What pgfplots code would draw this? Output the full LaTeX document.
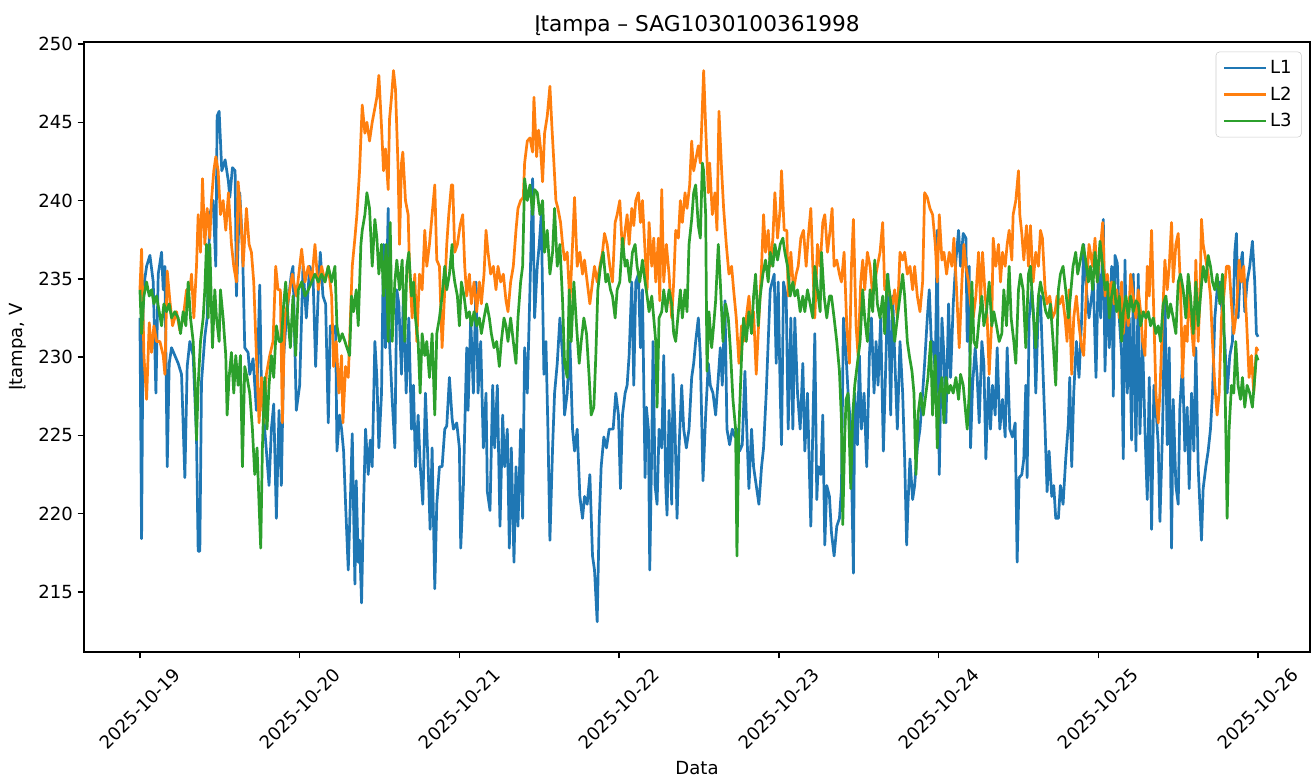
\documentclass[border=0pt]{standalone}
\usepackage{fontspec}
\setmainfont{DejaVu Sans}
\usepackage{pgfplots}
\pgfplotsset{compat=1.18}
\definecolor{tabblue}{HTML}{1F77B4}
\definecolor{taborange}{HTML}{FF7F0E}
\definecolor{tabgreen}{HTML}{2CA02C}
\begin{document}
\begin{tikzpicture}
\begin{axis}[
  scale only axis,
  width=882.7pt, height=439.2pt,
  xmin=-8.4, xmax=175.8,
  ymin=211.17, ymax=250.13,
  xtick={0,24,48,72,96,120,144,168},
  xticklabels={2025-10-19,2025-10-20,2025-10-21,2025-10-22,2025-10-23,2025-10-24,2025-10-25,2025-10-26},
  ytick={215,220,225,230,235,240,245,250},
  xtick pos=bottom, ytick pos=left,
  tick align=outside,
  major tick length=4.55pt,
  every tick/.style={black, line width=1.04pt},
  axis line style={black, line width=1.04pt},
  /pgf/number format/assume math mode=true,
  tick label style={font=\fontsize{13}{15.6}\selectfont},
  xticklabel style={anchor=center, yshift=-36.3pt, rotate=45},
  yticklabel style={anchor=east},
  title={Įtampa – SAG1030100361998},
  title style={font=\fontsize{15.6}{18}\selectfont, at={(axis description cs:0.5,1)}, anchor=center, yshift=6pt},
  xlabel={Data},
  xlabel style={font=\fontsize{13}{15.6}\selectfont, at={(axis description cs:0.5,0)}, anchor=center, yshift=-83.5pt},
  ylabel={Įtampa, V},
  ylabel style={font=\fontsize{13}{15.6}\selectfont, at={(axis description cs:-0.0538,0.5)}, anchor=center},
  legend style={at={(1,1)}, anchor=north east, xshift=-6pt, yshift=-7pt,
    draw=black!20, rounded corners=2.5pt, fill=white, fill opacity=0.8, text opacity=1,
    font=\fontsize{13}{15.6}\selectfont, row sep=4pt, inner xsep=5pt, inner ysep=4pt},
  legend cell align=left,
  legend image code/.code={\draw[#1, line width=1.95pt] (0pt,0pt) -- (30pt,0pt);},
  every axis plot/.append style={line width=1.95pt, line join=round},
]
\addplot[tabblue] table {
0 232.5
0.25 218.4
0.5 234.3
1.0 235.8
1.5 236.5
2.0 234.8
2.4 227.7
2.75 235.3
3.25 236.7
3.5 234.3
3.75 235.8
4.1 223.0
4.4 229.6
4.75 230.6
5.25 230.1
5.75 229.6
6.25 228.9
6.75 222.3
7.1 229.4
7.5 231.0
8.0 230.1
8.5 224.9
8.75 217.6
9.0 217.6
9.25 228.4
9.75 231.3
10.1 232.5
10.5 239.1
11.0 240.0
11.4 235.8
11.6 245.4
11.9 245.7
12.3 241.9
12.8 242.6
13.3 241.2
13.5 240.2
13.9 242.1
14.3 241.9
14.5 233.9
15.0 240.5
15.4 237.2
15.75 230.6
16.25 230.3
16.5 228.9
17.0 229.9
17.5 226.6
18.0 234.6
18.25 228.2
18.75 225.4
19.4 221.8
19.75 225.4
20.1 227.0
20.5 219.7
20.9 226.6
21.25 221.8
21.6 230.1
22.0 232.5
22.75 235.3
23.0 235.8
23.5 226.6
24.0 228.2
24.5 235.8
25.0 232.5
25.5 235.8
26.0 235.3
26.4 229.4
26.8 234.3
27.1 236.7
27.5 233.9
27.9 233.4
28.3 225.8
28.6 232.0
29.0 231.5
29.4 232.0
29.6 224.0
30.0 226.3
30.3 225.4
30.6 224.0
30.9 220.6
31.3 216.4
31.6 220.6
31.9 225.1
32.3 215.5
32.5 222.1
32.8 216.9
33.0 218.3
33.3 214.3
33.6 220.6
33.9 225.4
34.3 222.5
34.6 224.7
34.9 223.0
35.3 231.0
35.6 228.7
35.9 224.2
36.3 227.7
36.6 237.2
36.9 230.6
37.3 239.5
37.5 231.0
37.9 227.3
38.3 224.2
38.6 234.3
38.9 233.4
39.3 228.9
39.6 234.3
40.0 227.7
40.4 232.5
40.8 225.4
41.1 228.2
41.4 223.0
41.8 226.3
42.1 223.2
42.5 220.6
42.9 227.7
43.3 223.0
43.6 219.0
43.9 224.2
44.3 215.2
44.6 220.6
45.0 223.0
45.4 223.0
45.8 225.4
46.1 225.6
46.5 228.7
46.9 226.1
47.1 225.4
47.6 225.8
48.0 224.2
48.2 217.8
48.6 221.8
48.8 225.4
49.1 230.6
49.3 226.6
49.7 232.5
50.1 227.7
50.5 234.8
50.8 227.7
51.2 231.0
51.6 224.2
52.0 227.7
52.2 221.4
52.6 220.2
53.0 228.2
53.3 224.2
53.7 228.2
54.1 219.2
54.5 226.3
54.8 223.0
55.2 225.4
55.5 217.8
55.8 224.2
56.2 216.9
56.5 223.0
56.8 219.2
57.2 225.4
57.5 219.7
57.8 230.6
58.2 227.7
58.6 234.3
59.0 241.4
59.3 232.5
59.7 235.8
60.0 237.2
60.3 239.1
60.7 228.9
61.0 231.0
61.3 225.4
61.6 218.3
62.0 224.2
62.3 227.7
62.7 229.6
63.1 232.5
63.5 230.1
63.8 226.3
64.2 227.7
64.6 231.0
65.0 225.4
65.3 224.0
65.7 225.4
66.1 221.1
66.5 219.7
66.8 221.1
67.2 220.6
67.6 222.5
68.0 217.3
68.3 216.4
68.7 213.1
69.0 219.5
69.3 223.0
69.7 224.9
70.1 224.2
70.5 225.4
71.1 225.4
71.5 227.7
71.9 226.3
72.2 221.6
72.5 226.3
72.9 227.7
73.2 228.2
73.5 230.1
73.9 234.8
74.2 228.2
74.5 234.8
74.9 235.3
75.2 230.6
75.5 234.3
75.9 222.3
76.1 226.8
76.4 225.4
76.6 216.4
76.9 224.2
77.1 231.0
77.4 221.8
77.7 220.6
78.0 225.4
78.4 224.2
78.7 230.1
79.0 221.8
79.2 219.9
79.5 226.6
79.9 220.6
80.1 228.9
80.4 225.4
80.7 219.7
81.0 224.2
81.4 228.2
81.7 225.4
82.1 224.2
82.5 225.4
82.9 228.7
83.2 229.6
83.5 231.0
83.9 232.5
84.2 230.1
84.6 222.1
85.0 226.3
85.4 229.6
85.7 228.2
86.1 227.7
86.5 226.3
86.9 228.7
87.2 230.6
87.5 228.2
87.9 233.6
88.2 225.4
88.6 224.4
89.0 225.4
89.4 224.9
89.7 225.4
90.1 224.0
90.5 224.4
90.9 229.1
91.1 226.3
91.5 221.6
91.9 225.4
92.2 223.0
92.6 221.8
93.0 220.6
93.4 223.0
93.7 224.2
94.1 227.7
94.4 231.0
94.7 234.3
95.3 235.3
95.6 229.6
95.9 234.8
96.2 227.7
96.4 224.4
96.7 234.8
97.1 233.9
97.4 225.4
97.8 232.5
98.1 225.4
98.4 232.5
98.8 227.7
99.2 225.4
99.6 229.6
99.9 224.0
100.3 227.7
100.6 222.5
100.8 219.2
101.1 225.4
101.4 231.5
101.7 220.9
101.9 223.0
102.3 222.5
102.6 226.3
102.9 218.0
103.2 221.8
103.6 221.1
103.9 218.8
104.3 217.3
104.7 219.2
105.1 219.7
105.4 221.6
105.7 232.5
106.1 230.1
106.4 227.7
106.8 225.4
107.2 216.2
107.4 227.7
107.8 224.4
108.1 230.1
108.4 225.4
108.8 227.7
109.2 223.0
109.6 230.1
109.9 232.5
110.3 227.7
110.6 231.0
110.9 228.2
111.3 232.5
111.7 224.0
112.1 230.1
112.4 235.3
112.8 226.3
113.1 233.9
113.4 230.1
113.8 225.4
114.2 231.0
114.6 227.7
114.9 223.5
115.2 218.0
115.4 220.6
115.7 223.5
116.1 220.9
116.4 221.8
116.8 224.2
117.2 225.4
117.6 227.7
117.9 229.6
118.3 232.5
118.6 234.3
118.9 231.0
119.1 231.0
119.5 229.1
119.8 238.1
120.1 222.5
120.5 232.5
120.8 230.1
121.1 225.8
121.5 233.4
121.8 228.7
122.2 233.4
122.6 236.2
123.0 238.1
123.3 235.8
123.7 237.9
124.1 237.6
124.3 231.0
124.6 235.8
124.8 224.2
125.1 228.2
125.5 230.6
125.8 228.7
126.1 225.8
126.5 231.0
126.8 229.6
127.1 223.5
127.5 228.7
127.8 225.4
128.1 228.2
128.5 226.3
128.8 230.6
129.2 225.4
129.6 227.3
130.0 224.9
130.3 230.6
130.7 225.4
131.1 224.9
131.5 225.8
131.8 216.9
132.1 222.3
132.5 222.5
132.8 223.5
133.1 228.2
133.3 222.3
133.6 232.5
134.0 234.3
134.3 232.5
134.6 227.7
135.0 233.4
135.3 233.9
135.6 230.1
136.0 225.4
136.3 221.4
136.6 224.0
137.0 221.1
137.3 221.8
137.6 219.7
138.0 219.7
138.3 221.8
138.7 220.6
139.1 223.5
139.5 225.8
139.7 228.7
140.0 223.0
140.3 227.7
140.7 231.0
141.1 228.7
141.5 232.5
141.8 237.2
142.2 234.3
142.6 232.5
143.25 234.8
143.65 228.7
144.0 235.8
144.35 232.5
144.75 238.8
145.0 229.1
145.35 234.8
145.65 230.6
146.0 235.8
146.25 227.5
146.5 236.5
146.85 236.0
147.15 232.5
147.5 230.1
147.75 223.5
148.0 236.2
148.35 227.7
148.65 232.5
149.0 224.7
149.25 235.3
149.65 224.0
150.0 235.3
150.25 225.1
150.65 231.0
151.0 225.4
151.35 220.9
151.65 228.7
152.0 219.0
152.35 228.2
152.65 226.8
153.0 224.4
153.25 219.5
153.65 225.4
154.0 233.9
154.35 224.4
154.65 230.6
155.0 217.8
155.25 227.3
155.65 221.8
156.0 220.6
156.25 226.8
156.65 229.6
157.0 224.0
157.35 226.8
157.65 221.6
158.0 227.7
158.35 224.0
158.65 230.6
159.0 223.0
159.25 220.6
159.5 218.3
159.75 221.6
160.15 223.0
160.5 224.0
160.85 225.4
161.15 227.7
161.5 232.5
161.85 234.3
162.25 234.8
162.65 232.5
163.0 231.0
163.35 227.7
163.75 230.1
164.15 231.0
164.5 236.7
164.75 237.9
165.0 232.5
165.35 235.8
165.65 236.7
166.0 232.9
166.35 234.8
166.75 235.8
167.15 237.4
167.5 234.8
167.75 231.5
168.0 231.3
};
\addlegendentry{L1}
\addplot[taborange] table {
0 234.3
0.25 236.9
0.6 230.1
1.0 227.3
1.4 232.2
1.75 230.3
2.1 232.0
2.5 231.0
3.0 231.0
3.5 230.1
3.75 228.9
4.1 235.5
4.5 233.6
4.9 232.0
5.5 232.9
6.0 231.7
6.5 232.5
7.0 234.3
7.5 234.3
7.75 235.3
8.1 232.5
8.5 235.8
8.75 239.1
9.1 236.7
9.4 241.4
9.75 237.2
10.1 239.5
10.5 237.6
10.75 240.0
11.1 241.9
11.4 242.8
11.75 241.9
12.1 239.1
12.5 240.0
12.9 238.1
13.3 240.5
13.75 237.2
14.1 235.8
14.5 234.8
14.75 241.2
15.1 239.5
15.5 235.8
16.0 239.5
16.4 237.2
16.75 236.7
17.1 234.8
17.5 230.1
17.9 225.8
18.25 228.7
18.6 225.8
19.0 228.9
19.5 230.1
20.0 231.0
20.4 235.8
20.75 234.3
21.1 234.3
21.4 225.8
21.75 232.5
22.25 233.6
22.9 235.3
23.5 233.9
24.3 236.9
24.8 234.8
25.3 235.8
25.8 234.8
26.3 237.2
26.8 234.3
27.3 235.8
27.8 234.8
28.3 235.8
28.8 233.9
29.1 229.4
29.5 231.0
29.9 227.7
30.3 230.1
30.5 225.8
30.9 229.4
31.3 228.7
31.5 231.0
31.9 235.8
32.3 237.6
32.6 239.1
33.0 241.9
33.4 246.1
33.8 244.3
34.1 245.0
34.5 243.8
34.9 245.0
35.3 245.9
35.6 246.6
35.9 248.0
36.3 244.7
36.6 241.9
36.9 243.3
37.3 240.7
37.5 245.2
37.8 246.6
38.1 248.3
38.4 247.1
38.8 241.9
39.0 237.2
39.3 242.4
39.5 243.1
39.9 240.0
40.3 239.1
40.5 235.8
40.9 232.5
41.3 235.3
41.6 231.0
42.0 235.3
42.4 234.3
42.8 238.1
43.1 235.8
43.5 237.2
43.9 239.1
44.3 241.0
44.6 236.2
45.0 235.8
45.4 230.6
45.8 234.3
46.1 237.2
46.4 239.1
46.8 241.0
47.0 241.0
47.3 236.7
47.7 237.2
48.1 238.4
48.5 239.1
48.8 235.8
49.1 233.9
49.5 235.3
49.8 233.4
50.2 234.8
50.6 232.9
51.0 234.8
51.3 233.4
51.7 235.3
52.0 238.1
52.3 236.7
52.7 235.3
53.1 235.8
53.5 234.3
53.8 235.8
54.2 234.8
54.6 235.3
55.0 233.6
55.3 232.9
55.7 234.8
56.1 235.8
56.5 238.1
56.8 239.5
57.2 240.0
57.6 240.2
57.8 242.4
58.2 243.8
58.6 244.0
59.0 243.1
59.2 246.6
59.6 242.8
59.9 244.5
60.2 243.3
60.5 241.2
60.8 244.3
61.2 245.4
61.6 247.3
61.9 244.7
62.2 242.4
62.5 240.0
62.8 239.5
63.2 238.6
63.5 237.2
63.8 236.2
64.2 236.7
64.6 233.4
65.0 237.2
65.3 240.2
65.7 235.8
66.1 236.7
66.5 235.3
66.8 236.2
67.2 234.8
67.6 233.4
68.0 234.8
68.3 235.8
68.7 234.8
69.1 235.8
69.5 236.7
69.8 237.9
70.2 237.2
70.6 235.8
71.0 234.8
71.4 238.6
71.7 239.1
72.1 240.0
72.5 236.7
72.9 238.1
73.2 239.1
73.5 237.2
73.9 239.5
74.2 238.4
74.5 240.0
74.9 240.5
75.2 238.6
75.5 240.0
75.9 236.7
76.2 234.3
76.5 238.6
76.9 235.8
77.2 237.6
77.5 234.8
77.9 237.6
78.1 233.6
78.4 240.7
78.7 234.8
79.1 237.2
79.5 235.3
79.9 232.5
80.2 234.8
80.5 238.1
80.9 237.6
81.2 240.0
81.5 238.6
81.9 240.5
82.2 239.5
82.6 241.0
82.9 243.8
83.2 241.9
83.6 242.8
83.9 243.5
84.2 242.4
84.5 245.9
84.7 248.3
85.0 244.7
85.4 240.5
85.6 242.4
86.0 239.1
86.4 240.5
86.7 238.1
87.0 245.7
87.4 241.9
87.7 239.5
88.1 237.2
88.5 235.3
88.9 235.8
89.2 234.3
89.6 232.5
90.0 229.6
90.4 232.0
90.7 231.0
91.1 232.5
91.5 233.9
91.9 232.0
92.2 232.9
92.6 228.9
93.0 232.5
93.4 235.8
93.7 239.1
94.0 236.7
94.4 238.1
94.7 235.8
95.1 237.6
95.4 240.5
95.8 237.6
96.2 239.5
96.4 241.9
96.8 238.1
97.2 238.1
97.4 233.9
97.8 236.7
98.2 234.3
98.6 235.3
98.9 235.8
99.3 237.6
99.7 238.1
100.1 235.8
100.4 237.6
100.8 239.5
101.1 235.8
101.4 232.5
101.8 237.2
102.2 235.8
102.6 238.6
102.9 239.1
103.3 236.7
103.7 238.1
104.0 239.5
104.3 235.8
104.7 236.2
105.1 235.3
105.4 234.8
105.8 236.7
106.2 232.0
106.6 229.6
106.9 235.8
107.2 238.8
107.6 232.0
107.9 230.1
108.3 234.8
108.6 236.2
108.9 234.3
109.3 236.7
109.7 235.8
110.1 233.9
110.4 234.8
110.8 235.8
111.2 236.7
111.6 238.6
111.9 234.3
112.3 234.8
112.7 233.9
113.1 233.4
113.4 234.3
113.8 232.5
114.2 236.7
114.6 236.2
114.9 236.7
115.3 235.3
115.7 235.8
116.1 234.3
116.4 235.8
116.8 233.9
117.2 232.9
117.6 234.8
117.9 240.5
118.3 240.2
118.7 239.5
119.1 239.1
119.5 237.2
119.8 234.8
120.1 239.1
120.5 236.2
120.8 236.7
121.2 235.3
121.6 236.7
122.0 235.8
122.3 237.6
122.7 234.3
123.1 230.6
123.5 234.8
123.8 237.2
124.1 235.8
124.5 234.8
124.8 233.4
125.2 232.5
125.6 233.9
126.0 236.7
126.3 233.4
126.6 236.7
127.0 233.9
127.3 232.5
127.6 228.9
128.0 232.5
128.2 237.6
128.6 235.8
129.0 237.2
129.3 234.8
129.6 236.7
130.0 235.8
130.3 237.2
130.6 238.1
131.0 236.2
131.2 239.1
131.6 240.0
132.0 241.9
132.2 239.1
132.5 237.9
132.8 236.2
133.2 238.4
133.5 235.8
133.8 238.4
134.2 234.8
134.6 236.7
135.0 235.8
135.3 238.1
135.6 237.6
136.0 234.3
136.3 233.4
136.7 233.9
137.1 232.5
137.5 232.9
137.8 233.9
138.2 233.4
138.6 233.9
139.0 232.5
139.3 231.0
139.6 234.3
140.0 228.9
140.3 232.5
140.7 233.9
141.1 232.0
141.5 230.6
141.8 230.1
142.2 234.3
142.6 237.2
143.15 235.8
143.5 237.6
143.85 234.8
144.25 236.7
144.65 238.6
145.0 233.9
145.35 235.3
145.65 233.9
146.0 234.8
146.35 233.4
146.75 234.3
147.15 232.5
147.5 234.8
147.75 231.5
148.15 233.4
148.5 232.0
148.85 235.3
149.25 233.9
149.65 232.5
150.0 234.3
150.35 232.9
150.65 231.0
151.0 230.1
151.35 235.8
151.65 233.9
152.0 238.1
152.35 232.5
152.65 227.7
153.0 225.8
153.25 227.7
153.65 232.5
154.0 236.2
154.35 234.3
154.65 235.8
155.0 238.6
155.25 234.8
155.65 237.2
156.0 237.9
156.35 234.3
156.65 228.7
157.0 232.0
157.35 231.0
157.65 234.8
158.0 232.0
158.35 230.1
158.65 236.2
159.0 231.0
159.25 233.6
159.5 238.8
159.75 237.2
160.15 236.2
160.5 235.3
160.85 233.9
161.15 231.0
161.5 228.2
161.85 226.3
162.15 227.7
162.5 232.5
162.85 233.9
163.25 235.8
163.65 235.8
164.0 233.4
164.35 231.5
164.75 232.9
165.15 236.2
165.5 234.8
165.85 235.8
166.25 232.5
166.65 228.7
167.0 230.1
167.35 227.7
167.75 230.6
168.0 230.4
};
\addlegendentry{L2}
\addplot[tabgreen] table {
0 234.3
0.25 231.5
0.6 233.9
1.0 234.8
1.4 233.9
1.75 234.3
2.1 233.4
2.5 233.9
2.9 232.9
3.25 232.0
3.6 233.4
4.0 232.9
4.4 233.4
4.75 232.5
5.25 232.9
5.75 232.5
6.1 231.5
6.5 232.9
6.9 232.0
7.25 234.8
7.6 232.5
8.0 231.0
8.25 228.7
8.5 224.7
8.75 228.2
9.1 231.0
9.5 232.5
9.75 234.3
10.0 237.2
10.25 232.5
10.5 237.2
10.9 230.6
11.25 234.3
11.5 232.5
11.9 231.0
12.1 234.3
12.5 232.5
12.9 230.1
13.1 226.3
13.4 228.7
13.75 230.3
14.1 227.7
14.4 230.1
14.75 228.2
15.1 230.1
15.4 223.0
15.75 229.4
16.1 228.7
16.5 227.7
16.9 225.4
17.25 222.5
17.6 224.2
17.9 220.6
18.15 217.8
18.4 224.2
18.75 228.7
19.1 225.4
19.4 228.2
19.75 230.1
20.1 228.7
20.5 232.0
20.9 231.0
21.25 231.0
21.6 233.4
21.9 234.8
22.25 232.5
22.6 230.6
23.0 233.9
23.4 230.1
23.8 234.3
24.3 234.8
24.8 233.9
25.3 234.3
25.8 234.8
26.3 235.3
26.8 234.8
27.3 235.3
27.8 234.8
28.3 235.8
28.8 234.8
29.3 235.8
29.6 232.0
30.0 231.0
30.4 231.5
30.8 231.0
31.1 230.6
31.5 230.1
31.8 233.9
32.1 232.9
32.5 234.3
32.8 232.0
33.2 237.2
33.4 238.1
33.8 239.1
34.1 240.5
34.5 239.5
34.9 235.8
35.3 238.8
35.6 237.6
35.9 235.3
36.3 237.2
36.6 233.9
37.0 237.2
37.3 231.0
37.6 238.6
37.9 231.0
38.3 234.8
38.6 236.2
39.0 234.3
39.4 236.2
39.8 231.0
40.1 235.8
40.4 236.7
40.8 233.9
41.1 234.8
41.4 232.5
41.8 231.0
42.1 227.7
42.4 231.5
42.8 230.1
43.1 231.0
43.5 228.7
43.9 231.5
44.3 226.3
44.6 231.5
45.0 232.5
45.4 233.9
45.8 235.8
46.1 234.3
46.5 235.3
46.9 237.2
47.0 235.8
47.3 234.8
47.7 233.9
48.0 232.0
48.3 234.8
48.7 233.9
49.1 232.5
49.5 232.9
49.8 232.0
50.2 232.9
50.6 232.0
51.0 232.5
51.3 231.5
51.7 232.5
52.1 233.4
52.5 232.5
52.8 231.5
53.2 230.6
53.6 231.0
54.0 229.4
54.3 231.0
54.7 232.5
55.0 232.0
55.3 231.0
55.7 232.5
56.1 231.0
56.5 229.6
56.8 232.5
57.2 234.8
57.5 235.8
57.8 241.4
58.2 240.0
58.6 241.0
59.0 239.1
59.3 240.7
59.7 240.5
60.1 239.1
60.5 240.0
60.8 236.7
61.2 238.1
61.6 235.3
62.0 236.7
62.3 239.5
62.7 235.8
63.1 237.2
63.5 233.6
63.8 229.6
64.2 228.7
64.5 234.3
64.8 231.0
65.2 234.8
65.6 232.0
66.0 229.6
66.3 231.0
66.7 232.5
67.1 231.5
67.5 228.7
67.8 226.3
68.2 226.8
68.5 230.1
68.8 234.3
69.2 235.8
69.6 236.7
70.0 234.8
70.3 235.3
70.7 234.3
71.0 233.9
71.4 232.5
71.7 234.3
72.1 234.8
72.5 237.6
72.9 235.8
73.2 236.2
73.6 234.8
74.0 236.7
74.4 237.2
74.7 235.8
75.1 234.8
75.5 236.2
75.9 234.8
76.2 233.9
76.5 232.9
76.9 233.9
77.2 232.5
77.5 231.0
77.7 226.8
78.0 232.5
78.4 232.9
78.7 234.3
79.1 232.9
79.5 234.3
79.9 233.4
80.2 231.5
80.5 231.0
80.9 232.9
81.2 234.3
81.5 232.5
81.9 234.3
82.2 232.9
82.5 237.2
82.9 238.8
83.2 240.5
83.5 241.0
83.9 238.4
84.2 237.6
84.5 242.4
84.7 241.9
85.0 239.1
85.2 229.1
85.5 232.9
85.9 230.6
86.2 232.0
86.5 233.6
86.9 237.2
87.2 234.8
87.6 231.0
88.0 233.4
88.4 232.5
88.7 230.6
89.1 227.3
89.5 225.4
89.7 217.3
90.0 225.4
90.4 230.1
90.7 232.5
91.1 231.0
91.5 232.9
91.9 231.5
92.2 233.9
92.5 235.3
92.9 232.0
93.2 233.9
93.6 235.3
94.0 236.2
94.4 234.8
94.7 236.7
95.1 235.8
95.4 237.2
95.8 236.2
96.2 237.2
96.6 237.6
96.9 236.7
97.3 235.8
97.7 233.9
98.1 234.8
98.4 233.9
98.8 234.3
99.2 232.9
99.6 233.9
99.9 232.9
100.3 234.3
100.7 233.4
101.1 232.5
101.4 235.8
101.8 234.3
102.2 232.9
102.4 236.7
102.8 233.9
103.2 232.5
103.6 233.9
103.9 233.9
104.3 232.5
104.7 231.0
105.1 229.1
105.4 226.0
105.6 219.3
105.9 225.0
106.1 227.3
106.4 227.7
106.8 221.6
107.1 226.3
107.4 228.2
107.8 229.6
108.2 231.0
108.6 234.3
108.9 232.5
109.3 231.0
109.7 234.3
110.1 232.9
110.4 236.2
110.8 233.4
111.2 232.5
111.6 233.9
111.9 231.5
112.3 235.3
112.7 233.9
113.1 232.5
113.4 231.0
113.8 232.5
114.2 233.9
114.6 235.3
114.9 233.9
115.3 231.0
115.6 230.1
116.0 229.1
116.3 227.7
116.6 222.5
116.9 226.3
117.3 227.7
117.7 226.3
118.1 227.7
118.4 228.7
118.8 231.0
119.1 226.3
119.5 230.1
119.8 224.2
120.1 227.7
120.5 228.7
120.8 225.8
121.1 228.7
121.5 227.7
121.8 228.2
122.2 227.7
122.6 228.7
123.0 227.3
123.3 228.9
123.7 228.2
124.1 226.3
124.3 225.4
124.6 227.7
125.0 234.8
125.3 231.0
125.7 230.6
126.1 232.5
126.5 233.9
126.8 232.0
127.2 232.9
127.6 234.8
128.0 232.0
128.3 232.9
128.7 232.0
129.1 231.0
129.5 231.5
129.8 234.3
130.2 232.0
130.6 235.8
130.9 232.5
131.3 231.0
131.6 229.6
132.0 234.3
132.3 235.3
132.7 234.3
133.1 230.6
133.5 235.3
133.8 235.8
134.2 232.9
134.6 230.6
135.0 233.9
135.3 234.8
135.7 233.9
136.1 232.9
136.5 232.5
136.8 233.4
137.2 231.0
137.6 228.2
138.0 234.3
138.3 235.3
138.7 235.8
139.1 234.3
139.5 232.5
139.8 233.9
140.2 235.8
140.6 236.7
140.9 235.3
141.3 236.2
141.7 237.2
142.1 236.2
142.5 234.8
142.8 235.8
143.15 234.3
143.5 236.7
143.85 234.8
144.25 237.4
144.65 235.8
145.0 234.3
145.35 234.8
145.65 232.5
146.0 233.9
146.35 234.8
146.75 232.9
147.15 233.9
147.5 231.0
147.75 232.9
148.15 233.9
148.5 232.5
148.85 233.9
149.25 232.9
149.65 233.6
150.0 233.4
150.35 232.0
150.75 232.9
151.15 232.5
151.5 232.9
151.85 232.0
152.25 232.5
152.65 231.5
153.0 232.0
153.35 231.0
153.75 233.4
154.15 233.9
154.5 232.5
154.85 233.4
155.25 232.5
155.65 231.5
156.0 234.8
156.35 235.3
156.75 234.3
157.15 232.5
157.5 235.3
157.85 233.9
158.25 231.5
158.65 234.8
159.0 232.0
159.35 233.9
159.75 235.8
160.15 234.8
160.5 236.5
160.85 235.8
161.15 234.8
161.5 234.3
161.85 235.3
162.25 233.4
162.65 235.3
162.85 232.5
163.15 225.4
163.35 219.7
163.65 225.4
164.0 228.2
164.35 227.7
164.65 231.0
165.0 228.2
165.35 227.3
165.65 228.7
166.0 226.8
166.35 228.2
166.75 227.7
167.15 226.8
167.5 228.7
167.75 230.1
168.0 229.8
};
\addlegendentry{L3}
\end{axis}
\pgfresetboundingbox
\path[use as bounding box] ([xshift=-60.5pt,yshift=-90.7pt]current axis.south west) rectangle ([xshift=2.9pt,yshift=30.2pt]current axis.north east);
\end{tikzpicture}
\end{document}
